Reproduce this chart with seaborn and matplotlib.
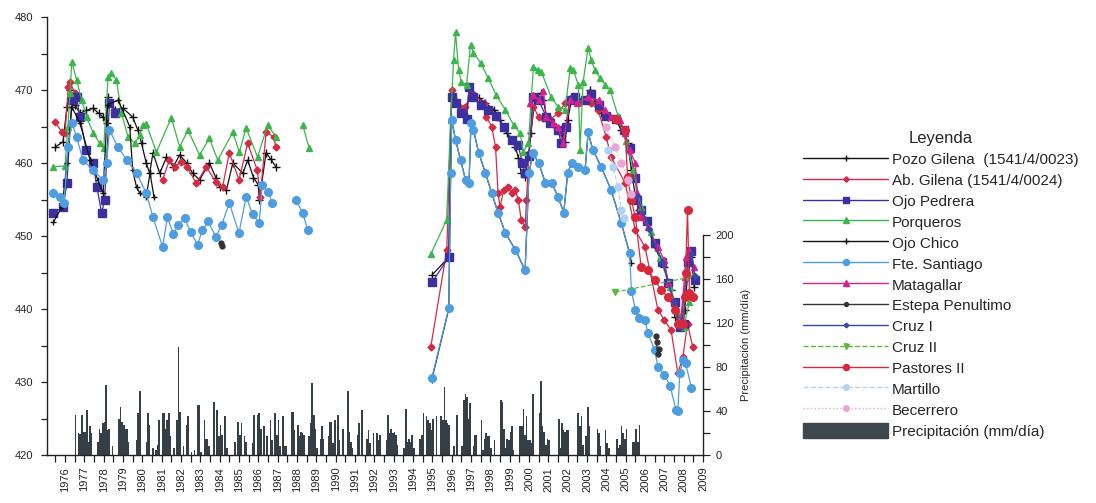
import numpy as np
import pandas as pd
import seaborn as sns
import matplotlib.pyplot as plt
from matplotlib.lines import Line2D
from matplotlib.patches import Patch
from matplotlib.ticker import MultipleLocator, FixedLocator

sns.set_style('ticks')
plt.rcParams['font.family'] = ['Liberation Sans', 'DejaVu Sans']

nan = np.nan

# precipitacion mensual (mm/dia), ene..dic, 1976-2005
precip_start = 1976
precip_mm = [
    0, 0, 0, 0, 0, 0, 36, 0, 20, 19, 36, 21,     # 1976
    21, 41, 12, 26, 20, 0, 0, 0, 12, 24, 20, 29,  # 1977
    30, 64, 23, 24, 0, 8, 0, 0, 0, 33, 44, 30,    # 1978
    27, 24, 24, 12, 0, 0, 0, 0, 14, 38, 58, 0,    # 1979
    0, 0, 12, 38, 27, 0, 6, 0, 5, 9, 32, 0,       # 1980
    38, 38, 24, 32, 38, 17, 0, 6, 0, 32, 98, 39,  # 1981
    0, 8, 0, 27, 35, 0, 3, 0, 5, 0, 45, 45,       # 1982
    3, 0, 32, 15, 15, 8, 0, 0, 48, 0, 41, 17,     # 1983
    27, 18, 0, 35, 6, 0, 0, 0, 0, 12, 0, 30,      # 1984
    18, 29, 0, 17, 12, 0, 0, 0, 11, 36, 0, 36,    # 1985
    38, 24, 0, 26, 0, 17, 0, 32, 14, 0, 38, 18,   # 1986
    32, 8, 0, 35, 8, 8, 0, 0, 39, 39, 23, 0,      # 1987
    27, 17, 21, 20, 18, 0, 0, 17, 29, 65, 36, 24, # 1988
    6, 0, 15, 26, 15, 0, 0, 17, 30, 30, 11, 32,   # 1989
    0, 36, 14, 0, 24, 0, 0, 58, 21, 12, 6, 0,     # 1990
    0, 18, 29, 0, 41, 0, 0, 15, 23, 11, 0, 20,    # 1991
    0, 20, 14, 18, 0, 0, 0, 14, 36, 20, 24, 20,   # 1992
    21, 18, 9, 0, 0, 0, 6, 42, 12, 15, 12, 18,    # 1993
    6, 0, 0, 0, 15, 18, 38, 0, 35, 32, 29, 23,    # 1994
    33, 0, 35, 0, 0, 35, 32, 62, 32, 29, 27, 0,   # 1995
    0, 8, 0, 36, 0, 0, 8, 50, 55, 53, 33, 47,     # 1996
    0, 8, 18, 18, 0, 0, 32, 5, 15, 20, 17, 17,    # 1997
    6, 0, 14, 0, 0, 0, 50, 48, 24, 6, 15, 14,     # 1998
    21, 26, 5, 0, 0, 0, 26, 26, 42, 18, 35, 14,   # 1999
    14, 11, 55, 0, 0, 0, 38, 67, 26, 21, 9, 15,   # 2000
    14, 0, 0, 0, 0, 0, 33, 6, 29, 23, 21, 23,     # 2001
    23, 0, 0, 0, 0, 0, 38, 26, 35, 9, 0, 17,      # 2002
    44, 26, 0, 0, 0, 0, 24, 20, 8, 0, 0, 23,      # 2003
    11, 6, 0, 0, 0, 0, 15, 6, 9, 26, 20, 15,      # 2004
    24, 0, 0, 0, 12, 12, 24, 12, 27, 0, 0, 0,     # 2005
]

# niveles piezometricos (m s.n.m.), nan = corte de la serie
pozo_gilena_x = [1975.5, 1975.9, 1976.1, 1976.26, 1976.5, 1976.77, 1977.1, 1977.45, 1977.75, 1977.97, 1978.15,
                 1978.2, 1978.58, 1979.0, 1979.5, 1979.77, 1979.96, 1980.2, 1980.38, 1980.55, 1980.9, 1981.25,
                 1981.6, 1981.93, 1982.3, 1982.6, 1982.96, 1983.47, 1983.8, 1984.0, 1984.35, 1984.68, 1985.2,
                 1985.45, 1985.75, 1986.0, 1986.05, 1986.4, 1986.65, 1986.9, nan,
                 1995.0, 1995.85, 1996.0, 1996.2, 1996.5, 1996.77, 1996.9, 1997.05, 1997.4, 1997.75, 1998.2,
                 1998.5, 1998.85, 1999.3, 1999.45, 1999.6, 1999.8, 2000.0, 2000.1, 2000.3, 2000.6, 2000.75,
                 2000.9, 2001.15, 2001.4, 2001.67, 2001.87, 2002.0, 2002.2, 2002.4, 2002.9, 2003.16, 2003.42,
                 2003.73, 2004.1, 2004.5, 2004.77, 2005.1, 2005.3, 2005.5, 2005.7, 2006.0, 2006.5, 2007.0,
                 2007.35, 2007.55, 2007.85, 2008.05, 2008.2, 2008.4, 2008.55]
pozo_gilena_y = [462.2, 462.9, 467.7, 470.0, 468.0, 466.8, 467.2, 467.5, 466.8, 466.3, 465.5,
                 469.0, 467.3, 467.5, 466.3, 464.5, 462.7, 460.0, 458.6, 461.4, 458.6, 460.8,
                 459.5, 461.1, 460.0, 458.6, 457.7, 460.0, 458.0, 456.7, 456.3, 460.0, 458.6,
                 460.4, 458.0, 457.0, 454.9, 461.4, 460.5, 459.5, nan,
                 444.7, 447.1, 469.0, 468.6, 466.8, 466.3, 470.0, 469.6, 468.9, 468.2, 467.3,
                 465.9, 464.1, 462.2, 460.7, 458.6, 458.1, 461.4, 464.1, 468.6, 469.6, 468.6,
                 466.3, 465.5, 465.0, 464.1, 462.9, 465.9, 468.6, 469.0, 468.6, 470.0, 468.2,
                 466.8, 466.3, 465.9, 464.5, 462.7, 459.0, 455.5, 453.6, 452.2, 448.5, 445.8,
                 442.6, 438.9, 438.0, 439.9, 444.4, 447.1, 443.0]

ab_gilena_x = [1975.5, 1975.85, 1976.0, 1976.17, 1976.26, 1976.5, nan,
               1981.05, 1981.4, 1981.7, 1982.0, 1982.3, 1982.8, 1983.3, 1983.8, 1984.15, 1984.5, 1985.0,
               1985.45, 1985.95, 1986.1, 1986.4, 1986.8, 1986.9, nan,
               1994.92, 1995.75, 1996.0, 1996.25, 1996.5, 1996.7, 1997.05, 1997.65, 1997.8, 1998.07, 1998.27,
               1998.4, 1998.5, 1998.7, 1998.94, 1999.1, 1999.3, 1999.45, 1999.6, 1999.8, 1999.87, 2000.0,
               2000.23, 2000.5, 2000.75, 2001.1, 2001.5, 2001.87, 2002.2, 2002.65, 2002.96, 2003.2, 2003.57,
               2004.0, 2004.25, 2004.97, 2005.5, 2006.0, 2006.67, 2007.0, 2007.35, 2007.7, 2007.96, 2008.2,
               2008.47]
ab_gilena_y = [465.6, 464.2, 464.1, 470.4, 471.1, 469.6, nan,
               457.7, 460.4, 459.5, 460.2, 459.5, 457.2, 459.5, 457.4, 456.7, 461.4, 457.7,
               462.7, 459.0, 455.4, 464.2, 463.6, 462.2, nan,
               434.8, 448.1, 470.0, 468.2, 467.5, 467.7, 469.6, 468.2, 466.3, 465.0, 462.2,
               455.9, 454.0, 456.3, 456.7, 455.9, 456.3, 454.9, 452.2, 451.2, 454.9, 461.4,
               467.7, 466.3, 466.2, 466.0, 466.8, 468.2, 469.0, 468.4, 468.6, 468.2, 467.3,
               463.5, 460.8, 457.3, 450.8, 448.5, 439.9, 438.5, 437.1, 431.2, 433.4, 438.0,
               434.8]

ojo_pedrera_x = [1975.4, 1975.9, 1976.1, 1976.35, 1976.6, 1976.77, 1977.1, 1977.45, 1977.65, 1977.9,
                 1978.05, 1978.3, 1978.58, nan,
                 1995.0, 1995.85, 1996.0, 1996.2, 1996.5, 1996.77, 1996.9, 1997.1, 1997.5, 1997.9, 1998.3,
                 1998.7, 1999.1, 1999.45, 1999.65, 1999.8, 2000.0, 2000.2, 2000.5, 2000.9, 2001.1, 2001.5,
                 2001.67, 2001.9, 2002.1, 2002.4, 2002.9, 2003.2, 2003.6, 2004.0, 2004.5, 2004.9, 2005.2,
                 2005.5, 2005.6, 2005.8, 2006.1, 2006.5, 2006.9, 2007.2, 2007.55, 2007.8, 2008.0, 2008.2,
                 2008.4, 2008.6]
ojo_pedrera_y = [453.1, 454.0, 457.2, 468.6, 469.0, 466.3, 461.8, 460.0, 456.7, 453.1,
                 455.0, 468.2, 466.8, nan,
                 443.7, 447.1, 469.0, 468.2, 466.8, 466.0, 470.4, 469.0, 468.0, 467.3, 466.4,
                 465.0, 463.2, 462.4, 460.0, 458.6, 461.0, 469.0, 468.6, 466.3, 465.5, 464.5,
                 462.7, 465.0, 468.6, 469.0, 468.6, 469.5, 468.0, 466.5, 466.0, 464.5, 462.0,
                 458.0, 455.0, 453.5, 452.0, 449.0, 446.5, 443.5, 441.0, 437.5, 438.0, 446.5,
                 448.0, 444.0]

porqueros_x = [1975.4, 1976.0, 1976.15, 1976.26, 1976.35, 1976.6, 1976.86, 1977.12, 1977.46, 1977.8, 1978.0,
               1978.23, 1978.4, 1978.66, 1978.92, 1979.26, 1979.6, 1979.87, 1980.04, 1980.2, 1980.73, 1981.5,
               1981.93, 1982.36, 1982.96, 1983.47, 1983.9, 1984.68, 1985.02, 1985.37, 1985.96, 1986.48,
               1986.91, nan,
               1988.3, 1988.63, nan,
               1994.92, 1995.74, 1995.95, 1996.1, 1996.2, 1996.36, 1996.5, 1996.77, 1996.98, 1997.13, 1997.5,
               1997.9, 1998.3, 1998.78, 1999.2, 1999.55, 1999.7, 1999.97, 2000.23, 2000.48, 2000.64, 2001.15,
               2001.5, 2001.87, 2002.13, 2002.3, 2002.55, 2002.64, 2002.8, 2003.06, 2003.22, 2003.42,
               2003.68, 2003.94, 2004.2, 2004.6, 2005.0, 2005.4, 2005.8, 2006.3, 2006.8, 2007.3, 2007.7,
               2008.0, 2008.3]
porqueros_y = [459.5, 459.6, 465.0, 469.6, 473.9, 471.4, 468.6, 466.3, 464.1, 462.7, 462.0,
               471.8, 472.3, 471.4, 466.8, 463.6, 462.7, 463.8, 465.2, 465.4, 461.5, 466.2,
               462.2, 464.5, 461.1, 463.4, 460.4, 464.2, 461.5, 464.8, 460.8, 465.2,
               463.6, nan,
               465.2, 462.0, nan,
               447.5, 452.2, 465.9, 474.1, 477.9, 472.7, 471.1, 470.7, 476.2, 475.1, 473.7,
               471.6, 469.3, 467.3, 465.2, 464.1, 461.5, 462.7, 473.2, 472.7, 472.5, 469.0,
               467.7, 467.3, 473.0, 472.7, 470.7, 461.8, 471.1, 475.8, 474.1, 472.7,
               471.6, 470.7, 470.0, 466.5, 463.0, 459.0, 454.0, 450.5, 447.0, 443.0, 439.5,
               437.5, 441.0]

ojo_chico_x = [1975.4, 1975.85, 1976.1, 1976.35, 1976.77, 1977.3, 1977.7, 1977.97, 1978.2, 1978.75, 1979.35,
               1979.5, 1979.7, 1979.87, 1980.2, 1980.4, 1980.6, nan,
               1994.97, 1995.85, 1995.95, 1996.0, 1996.2, 1996.46, 1996.72, 1996.9, 1997.0, 1997.13, 1997.4,
               1997.75, 1998.07, 1998.4, 1998.78, 1999.3, 1999.8, 2000.0, 2000.2, 2000.5, 2000.85, 2001.17,
               2001.5, 2001.8, 2002.0, 2002.2, 2002.55, 2002.9, 2003.06, 2003.3, 2003.73, 2004.25, 2004.77,
               2005.2, 2005.3]
ojo_chico_y = [451.9, 454.0, 460.0, 467.7, 465.5, 460.4, 457.7, 455.9, 468.0, 468.6, 465.0,
               459.0, 456.7, 455.9, 455.4, 458.6, 455.4, nan,
               430.3, 440.0, 458.6, 465.9, 463.2, 460.4, 457.7, 457.3, 465.5, 464.5, 461.4,
               458.6, 455.9, 453.2, 450.4, 448.1, 445.3, 458.6, 461.4, 460.0, 457.3, 457.3,
               455.4, 453.2, 458.6, 460.0, 459.5, 459.0, 464.2, 461.8, 459.5, 456.3, 451.8,
               447.7, 446.3]

fte_santiago_x = [1975.4, 1975.75, 1975.95, 1976.15, 1976.35, 1976.6, 1976.93, 1977.46, 1977.97, 1978.15,
                  1978.3, 1978.73, 1979.2, 1979.7, 1980.2, 1980.55, 1981.05, 1981.3, 1981.6, 1981.85, 1982.2,
                  1982.5, 1982.86, 1983.1, 1983.4, 1983.8, 1984.1, 1984.5, 1985.0, 1985.37, 1985.7, 1986.05,
                  1986.2, 1986.5, 1986.73, nan,
                  1987.95, 1988.3, 1988.55, nan,
                  1994.97, 1995.85, 1995.95, 1996.0, 1996.2, 1996.46, 1996.72, 1996.9, 1997.0, 1997.13,
                  1997.4, 1997.75, 1998.07, 1998.4, 1998.78, 1999.3, 1999.8, 2000.0, 2000.2, 2000.5, 2000.85,
                  2001.17, 2001.5, 2001.8, 2002.0, 2002.2, 2002.55, 2002.9, 2003.06, 2003.3, 2003.73, 2004.25,
                  2004.77, 2005.2, 2005.3, 2005.5, 2005.7, 2006.0, 2006.15, 2006.5, 2006.67, 2007.0, 2007.3,
                  2007.6, 2007.7, 2007.8, 2007.96, 2008.1, 2008.4]
fte_santiago_y = [455.9, 455.4, 454.5, 462.2, 465.5, 463.6, 460.4, 459.0, 457.7, 460.0,
                  464.5, 462.2, 460.4, 458.6, 455.9, 452.6, 448.5, 452.6, 450.3, 451.5, 452.4,
                  450.5, 448.8, 450.8, 452.0, 449.9, 451.5, 454.5, 450.4, 455.4, 453.0, 451.8,
                  457.0, 456.0, 454.5, nan,
                  454.9, 453.2, 450.8, nan,
                  430.5, 440.1, 458.6, 465.9, 463.2, 460.4, 457.7, 457.3, 465.5, 464.5,
                  461.4, 458.6, 455.9, 453.2, 450.4, 448.1, 445.3, 458.6, 461.4, 460.0, 457.3,
                  457.3, 455.4, 453.2, 458.6, 460.0, 459.5, 459.0, 464.2, 461.8, 459.5, 456.3,
                  451.8, 447.7, 442.5, 439.9, 438.8, 438.5, 436.7, 434.4, 432.1, 431.0, 429.5,
                  426.2, 426.0, 431.2, 433.0, 432.6, 429.2]

matagallar_x = [2000.05, 2000.2, 2000.5, 2000.75, 2000.9, 2001.25, 2001.5, 2001.77, 2002.13, 2002.5, 2003.06,
                2003.6, 2003.94, 2004.25, 2004.7, 2004.97, 2005.2, 2005.5, 2005.6, 2005.8, 2006.15, 2006.67,
                2007.0, 2007.2, 2007.55, 2007.85, 2008.05, 2008.1, 2008.3, 2008.55]
matagallar_y = [468.2, 469.3, 468.6, 469.8, 466.3, 465.5, 465.0, 462.7, 468.6, 468.2, 469.0,
                468.6, 467.3, 466.3, 465.9, 464.1, 461.8, 460.0, 455.9, 452.6, 451.2, 448.5,
                446.7, 443.6, 440.3, 438.5, 444.4, 447.1, 448.1, 445.8]

estepa_x = [1984.05, 1984.12, nan, 2006.55, 2006.6, 2006.65, 2006.7]
estepa_y = [449.0, 448.6, nan, 436.3, 435.5, 433.8, 434.5]

cruz1_x = [2005.6, 2006.2, 2006.9, 2007.5, 2007.85, 2008.15, 2008.4, 2008.6]
cruz1_y = [455.5, 451.0, 446.5, 441.0, 437.5, 445.0, 447.5, 444.5]

cruz2_x = [2004.45, 2008.2]
cruz2_y = [442.3, 444.3]

pastores2_x = [2004.5, 2004.97, 2005.1, 2005.3, 2005.5, 2005.8, 2006.15, 2006.5, 2006.84, 2007.2, 2007.55,
               2007.7, 2007.96, 2008.05, 2008.1, 2008.2, 2008.3, 2008.5]
pastores2_y = [466.0, 464.5, 458.1, 454.9, 452.6, 445.8, 445.3, 444.0, 442.6, 441.6, 439.9,
               438.0, 438.0, 441.6, 444.9, 453.6, 442.2, 441.6]

martillo_x = [2004.1, 2004.35, 2004.6, 2004.77, 2004.9]
martillo_y = [461.8, 459.5, 456.7, 453.6, 452.5]

becerrero_x = [2004.0, 2004.45, 2004.77, 2005.1, 2005.3]
becerrero_y = [464.9, 462.2, 460.0, 457.7, 455.8]

# nombre, x, y, color, marcador, tamano, estilo
series = [
    ('Pozo Gilena  (1541/4/0023)', pozo_gilena_x, pozo_gilena_y, '#111111', '+', 6, '-'),
    ('Ab. Gilena (1541/4/0024)', ab_gilena_x, ab_gilena_y, '#d42a45', 'D', 3.5, '-'),
    ('Ojo Pedrera', ojo_pedrera_x, ojo_pedrera_y, '#3c2f9e', 's', 5.5, '-'),
    ('Porqueros', porqueros_x, porqueros_y, '#3cb54a', '^', 5, '-'),
    ('Ojo Chico', ojo_chico_x, ojo_chico_y, '#111111', '+', 5, '-'),
    ('Fte. Santiago', fte_santiago_x, fte_santiago_y, '#4d9de0', 'o', 5.5, '-'),
    ('Matagallar', matagallar_x, matagallar_y, '#d6208f', '^', 5, '-'),
    ('Estepa Penultimo', estepa_x, estepa_y, '#333333', 'o', 3.5, '-'),
    ('Cruz I', cruz1_x, cruz1_y, '#3848a8', 'D', 3, '-'),
    ('Cruz II', cruz2_x, cruz2_y, '#5cb83a', 'v', 4.5, '--'),
    ('Pastores II', pastores2_x, pastores2_y, '#d8283c', 'o', 5.5, '-'),
    ('Martillo', martillo_x, martillo_y, '#b3d2f2', 'o', 5, '--'),
    ('Becerrero', becerrero_x, becerrero_y, '#eaa6d6', 'o', 5, ':'),
]

fig = plt.figure(figsize=(10.96, 5.03), dpi=100)
ax = fig.add_axes([0.0429, 0.0954, 0.5985, 0.8708])
ax2 = ax.twinx()

# barras de precipitacion
t = precip_start + (np.arange(len(precip_mm)) + 0.5) / 12
pdf = pd.DataFrame({'t': t, 'mm': precip_mm})
sns.barplot(data=pdf, x='t', y='mm', native_scale=True, color='#363f45', saturation=1,
            width=1.0, errorbar=None, linewidth=0, ax=ax2)

# niveles
for name, xs, ys, color, marker, ms, ls in series:
    df = pd.DataFrame({'year': xs, 'nivel': ys})
    df['tramo'] = df['year'].isna().cumsum()
    df = df.dropna()
    for _, d in df.groupby('tramo'):
        sns.lineplot(data=d, x='year', y='nivel', color=color, marker=marker, markersize=ms,
                     linestyle=ls, linewidth=0.9, markeredgecolor=color, markeredgewidth=1.0,
                     estimator=None, sort=False, legend=False, ax=ax)

ax.set_zorder(ax2.get_zorder() + 1)
ax.patch.set_visible(False)

ax.set_xlim(1975.07, 2009.0)
ax.set_ylim(420, 480)
ax2.set_ylim(0, 398)
ax.set_xlabel('')
ax.set_ylabel('')
ax2.set_xlabel('')

ax.set_xticks(range(1976, 2010))
ax.set_xticklabels([str(y) for y in range(1976, 2010)], rotation=90, fontsize=8, color='#222222')
ax.xaxis.set_minor_locator(MultipleLocator(0.5))
ax.tick_params(axis='x', which='both', length=5, width=0.9, color='#222222')
ax.set_yticks(range(420, 481, 10))
ax.yaxis.set_minor_locator(MultipleLocator(5))
ax.tick_params(axis='y', which='both', length=4, width=0.9, labelsize=8, pad=6, color='#222222')

ax2.set_yticks(range(0, 201, 40))
ax2.yaxis.set_minor_locator(FixedLocator(range(20, 200, 40)))
ax2.tick_params(axis='y', which='both', length=5, width=0.9, labelsize=8, pad=4, color='#222222')
ax2.set_ylabel('Precipitación (mm/día)', fontsize=8)
ax2.yaxis.set_label_coords(1.058, 100 / 398)

for s in ['top', 'right']:
    ax.spines[s].set_visible(False)
for s in ['top', 'left', 'bottom']:
    ax2.spines[s].set_visible(False)
ax2.spines['right'].set_bounds(0, 200)
for sp in [ax.spines['left'], ax.spines['bottom'], ax2.spines['right']]:
    sp.set_linewidth(1.0)
    sp.set_color('#222222')

# leyenda
handles = []
for name, xs, ys, color, marker, ms, ls in series:
    handles.append(Line2D([0], [0], color=color, marker=marker, markersize=ms * 0.8, linestyle=ls,
                          linewidth=1.0, markeredgecolor=color, label=name))
handles.append(Patch(facecolor='#3d474d', edgecolor='#3d474d', label='Precipitación (mm/día)'))
leg = fig.legend(handles=handles, loc='upper left', bbox_to_anchor=(0.720, 0.766), frameon=False,
                 fontsize=11, title='Leyenda', title_fontsize=12, handlelength=5.6,
                 handletextpad=0.25, labelspacing=0.32, handleheight=1.2, markerfirst=True)

fig.savefig('out.png', dpi=100)
